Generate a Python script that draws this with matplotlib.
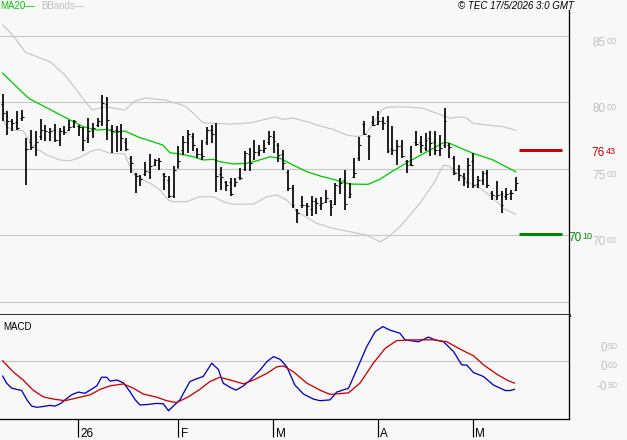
import numpy as np
import matplotlib
matplotlib.use('Agg')
import matplotlib.pyplot as plt

plt.rcParams['font.family'] = ['Liberation Sans', 'DejaVu Sans']

# OHLC diario (una barra por sesion, desde mediados de diciembre)
maximo = [8062, 7937, 7877, 7937, 7945, 7732, 7795, 7782, 7875, 7832, 7807, 7837, 7807, 7820, 7870, 7870, 7832, 7812, 7882, 7845, 7882, 8057,
          8037, 7827, 7820, 7837, 7732, 7595, 7470, 7457, 7552, 7612, 7577, 7582, 7470, 7446, 7521, 7670, 7745, 7795, 7770, 7657, 7720, 7812,
          7832, 7847, 7512, 7406, 7432, 7432, 7507, 7632, 7657, 7719, 7682, 7719, 7787, 7782, 7695, 7644, 7494, 7381, 7201, 7294, 7244, 7294,
          7282, 7286, 7344, 7269, 7394, 7432, 7494, 7394, 7582, 7737, 7857, 7757, 7895, 7932, 7887, 7895, 7820, 7719, 7719, 7569, 7669, 7782,
          7744, 7769, 7782, 7787, 7757, 7957, 7694, 7594, 7527, 7469, 7582, 7619, 7444, 7482, 7494, 7331, 7407, 7331, 7357, 7344, 7437]
minimo = [7862, 7757, 7787, 7792, 7862, 7382, 7645, 7595, 7720, 7707, 7712, 7702, 7670, 7757, 7782, 7807, 7745, 7637, 7695, 7732, 7812, 7820,
          7720, 7620, 7627, 7632, 7637, 7470, 7320, 7370, 7445, 7427, 7520, 7495, 7345, 7282, 7282, 7507, 7607, 7620, 7632, 7582, 7570, 7682,
          7695, 7327, 7344, 7331, 7294, 7361, 7419, 7482, 7482, 7569, 7594, 7619, 7682, 7619, 7552, 7494, 7331, 7206, 7094, 7206, 7144, 7144,
          7161, 7194, 7244, 7144, 7231, 7312, 7194, 7282, 7432, 7562, 7757, 7569, 7820, 7832, 7794, 7619, 7607, 7532, 7582, 7469, 7519, 7669,
          7619, 7632, 7594, 7607, 7594, 7657, 7582, 7457, 7407, 7369, 7357, 7357, 7357, 7382, 7357, 7269, 7269, 7169, 7269, 7269, 7331]
apertura = [7990, 7900, 7860, 7850, 7880, 7700, 7700, 7680, 7750, 7790, 7780, 7790, 7720, 7790, 7790, 7820, 7820, 7800, 7730, 7790, 7830, 7860,
            7990, 7800, 7790, 7780, 7700, 7580, 7460, 7440, 7460, 7480, 7530, 7570, 7460, 7420, 7300, 7510, 7640, 7700, 7750, 7640, 7610, 7700,
            7790, 7780, 7460, 7400, 7400, 7380, 7440, 7500, 7610, 7580, 7630, 7640, 7700, 7740, 7680, 7610, 7480, 7360, 7190, 7230, 7230, 7200,
            7260, 7230, 7250, 7260, 7240, 7370, 7420, 7290, 7440, 7580, 7840, 7750, 7850, 7840, 7860, 7860, 7650, 7640, 7670, 7560, 7540, 7700,
            7700, 7660, 7730, 7700, 7640, 7680, 7680, 7580, 7500, 7450, 7400, 7560, 7390, 7420, 7470, 7320, 7300, 7310, 7300, 7320, 7340]
cierre = [7920, 7862, 7845, 7807, 7887, 7650, 7662, 7700, 7795, 7782, 7787, 7720, 7782, 7775, 7812, 7857, 7812, 7720, 7782, 7807, 7857, 7995,
          7870, 7782, 7782, 7732, 7652, 7545, 7445, 7427, 7482, 7520, 7570, 7557, 7445, 7295, 7491, 7560, 7700, 7760, 7680, 7610, 7600, 7790,
          7762, 7450, 7436, 7382, 7312, 7402, 7432, 7620, 7544, 7627, 7644, 7657, 7744, 7707, 7607, 7544, 7356, 7231, 7169, 7226, 7219, 7256,
          7244, 7244, 7282, 7211, 7381, 7394, 7236, 7312, 7469, 7682, 7762, 7744, 7832, 7857, 7844, 7632, 7644, 7669, 7594, 7532, 7532, 7687,
          7682, 7719, 7694, 7644, 7657, 7857, 7662, 7469, 7451, 7432, 7532, 7381, 7419, 7469, 7381, 7306, 7306, 7231, 7312, 7319, 7394]

# MA20 y bandas de Bollinger (posicion de barra, valor)
ma_x = [0, 4.7, 5.7, 13.5, 16.9, 19.8, 21.9, 23.6, 25.7, 28.9, 31.6, 33.7, 35.2, 37.3, 40.1, 42.2, 44.3, 45.7, 48.5, 51.4, 53.5,
        56.3, 58.4, 61.1, 64.0, 66.8, 69.5, 73.1, 76.9, 79.4, 82.2, 85.7, 89.3, 92.8, 93.7, 99.0, 103.2, 108]
ma_y = [8218, 8055, 8025, 7880, 7817, 7792, 7797, 7775, 7784, 7734, 7704, 7679, 7621, 7612, 7591, 7567, 7572, 7554, 7537, 7542, 7561,
        7591, 7579, 7529, 7479, 7447, 7422, 7386, 7384, 7422, 7486, 7559, 7629, 7697, 7697, 7617, 7567, 7478]

bb_sup_x = [0, 1.1, 2.6, 4.7, 6.8, 10.0, 13.1, 16.3, 18.8, 20.5, 22.0, 25.7, 27.9, 30.0, 34.2, 38.4, 40.5, 42.2, 47.9, 52.1, 57.3,
            59.0, 61.1, 64.1, 66.8, 69.5, 72.4, 74.8, 76.6, 78.4, 79.8, 80.8, 83.6, 86.4, 88.5, 92.1, 94.2, 96.3, 97.7, 99.0,
            101.9, 105.3, 108]
bb_sup_y = [8581, 8543, 8483, 8378, 8348, 8303, 8205, 8055, 7942, 7957, 7965, 7942, 8010, 8032, 8017, 7972, 7905, 7845, 7837, 7845, 7890,
            7872, 7882, 7854, 7822, 7797, 7754, 7742, 7767, 7867, 7942, 7962, 7967, 7962, 7955, 7908, 7880, 7892, 7880, 7842,
            7830, 7817, 7790]
bb_inf_x = [0, 0.8, 2.2, 4.3, 6.4, 9.3, 12.1, 14.2, 16.3, 18.4, 20.1, 22.6, 25.7, 26.8, 27.9, 29.6, 31.7, 33.1, 34.9, 35.9, 38.7,
            41.5, 44.3, 46.4, 48.5, 52.8, 55.6, 57.7, 59.8, 62.6, 66.1, 69.5, 73.1, 76.6, 79.4, 80.8, 83.6, 87.8, 90.7, 92.8,
            94.2, 95.6, 97.7, 100.5, 103.3, 105.3, 108]
bb_inf_y = [7880, 7817, 7792, 7787, 7667, 7604, 7567, 7561, 7587, 7629, 7647, 7617, 7612, 7516, 7467, 7416, 7379, 7341, 7266, 7254, 7254,
            7291, 7291, 7254, 7234, 7236, 7291, 7304, 7266, 7166, 7091, 7054, 7028, 7003, 6953, 6979, 7066, 7241, 7392, 7529,
            7516, 7467, 7404, 7354, 7279, 7204, 7160]

# MACD (azul) y senal (rojo)
macd_x = [0, 0.8, 1.9, 4.0, 5.1, 6.1, 7.2, 8.5, 10.0, 11.0, 12.1, 13.1, 14.5, 15.9, 17.3, 18.4, 19.8, 20.8, 21.9, 22.6, 24.0,
          25.4, 26.8, 27.9, 28.9, 30.3, 32.4, 33.8, 34.9, 35.9, 37.3, 38.4, 39.4, 40.8, 42.2, 44.0, 45.4, 46.4, 47.9, 49.1,
          50.7, 52.1, 54.2, 55.6, 57.0, 58.4, 59.8, 61.5, 63.3, 65.4, 66.8, 68.9, 70.3, 72.8, 74.5, 76.6, 78.4, 80.0, 81.5,
          83.6, 84.7, 87.5, 89.6, 91.0, 92.8, 94.9, 96.6, 97.7, 99.1, 101.2, 103.3, 105.8, 106.8, 107.7]
macd_y = [-38, -56, -69, -75, -99, -115, -118, -116, -113, -115, -109, -99, -86, -79, -82, -74, -63, -41, -41, -51, -48,
          -55, -78, -99, -112, -111, -108, -109, -127, -115, -99, -74, -52, -45, -39, -5, -21, -56, -67, -74,
          -63, -48, -22, -1, 12, 5, -14, -61, -84, -97, -101, -99, -79, -69, -22, 37, 76, 89, 80,
          72, 55, 50, 62, 55, 50, 25, -9, -10, -29, -39, -61, -75, -75, -72]
senal_x = [0, 2.2, 4.3, 6.4, 8.5, 10.7, 13.1, 16.3, 18.4, 20.5, 22.6, 25.4, 27.5, 29.6, 32.4, 34.5, 36.6, 39.1, 41.5, 43.6,
           45.7, 47.9, 50.7, 52.8, 55.6, 57.7, 59.1, 61.2, 64.0, 66.8, 68.9, 72.8, 75.2, 78.0, 80.5, 82.9, 86.4, 90.7, 93.5,
           96.3, 99.1, 101.2, 104.0, 106.1, 107.7]
senal_y = [1, -27, -48, -74, -91, -97, -101, -92, -86, -72, -63, -58, -69, -84, -92, -101, -106, -91, -72, -52,
           -41, -48, -58, -48, -31, -14, -12, -27, -56, -74, -85, -81, -56, -5, 33, 53, 55, 55, 50,
           31, 14, -9, -33, -48, -56]

# niveles, etiquetas del eje
niveles_precio = [6500, 7000, 7500, 8000, 8500]
niveles_macd = [50, 0, -50]
resistencia = 7643
soporte = 7010
meses = ['26', 'F', 'M', 'A', 'M']
inicio_mes = [16, 37, 57, 79, 99]

W, H = 627, 440
fondo = '#f8f8f8'
gris = '#c8c8c8'
px = 0.72  # un pixel en puntos

fig = plt.figure(figsize=(W / 100, H / 100), dpi=100, facecolor=fondo)
ax = fig.add_axes([0, 1 - 315 / H, 569 / W, 305 / H], facecolor=fondo)
ax2 = fig.add_axes([0, 1 - 419 / H, 569 / W, 104 / H], facecolor=fondo)

x = np.arange(len(cierre))
for nivel in niveles_precio:
    ax.axhline(nivel, color=gris, lw=1.2 * px, zorder=0)
ax.plot(bb_sup_x, bb_sup_y, color=gris, lw=1.2 * px, zorder=1)
ax.plot(bb_inf_x, bb_inf_y, color=gris, lw=1.2 * px, zorder=1)
ax.plot(ma_x, ma_y, color='#00cc00', lw=1.3 * px, zorder=2)
ax.vlines(x, minimo, maximo, color='black', lw=1.7 * px, zorder=3)
ax.hlines(apertura, x - 0.38, x, color='black', lw=1.1 * px, zorder=3)
ax.hlines(cierre, x, x + 0.38, color='black', lw=1.1 * px, zorder=3)
ax.hlines(resistencia, 108.7, 117.7, color='#cc0000', lw=3 * px)
ax.hlines(soporte, 108.7, 117.7, color='#008800', lw=3 * px)

ax.set_xlim(-0.57, 119.2)
ax.set_ylim(6403, 8693)
ax2.set_xlim(-0.57, 119.2)
ax2.set_ylim(-148, 118.7)

ax2.axhline(0, color=gris, lw=1.2 * px, zorder=0)
ax2.plot(macd_x, macd_y, color='#0000cc', lw=1.3 * px)
ax2.plot(senal_x, senal_y, color='#cc0000', lw=1.3 * px)

for a in (ax, ax2):
    a.spines['top'].set_visible(False)
    a.spines['left'].set_visible(False)
    a.spines['right'].set_linewidth(1.3 * px)
    a.set_yticks([])
ax.spines['bottom'].set_linewidth(2.6 * px)
ax2.spines['bottom'].set_linewidth(1.3 * px)
ax.set_xticks([])

ax2.set_xticks([m - 0.1 for m in inicio_mes])
ax2.tick_params(axis='x', direction='out', length=18 * px, width=1.2 * px, color='black', labelbottom=False)
for m, lbl in zip(inicio_mes, meses):
    ax2.annotate(lbl, xy=(m - 0.1, 0), xycoords=('data', 'axes fraction'), xytext=(2.5 * px, -17.5 * px),
                 textcoords='offset points', ha='left', va='baseline', fontsize=8.5, color='black')


def etiqueta(a, valor, grande, chica, color, dx, dy):
    a.annotate(grande, xy=(1, valor), xycoords=('axes fraction', 'data'), xytext=(dx * px, dy * px),
               textcoords='offset points', ha='right', va='top', fontsize=8.5, color=color)
    a.annotate(chica, xy=(1, valor), xycoords=('axes fraction', 'data'), xytext=((dx + 0.5) * px, dy * px),
               textcoords='offset points', ha='left', va='top', fontsize=6.5, color=color)


for nivel in niveles_precio[1:]:
    s = str(nivel)
    etiqueta(ax, nivel, s[:2], s[2:], '#c0c0c0', 37, -1)
for nivel in niveles_macd:
    grande = '-0' if nivel < 0 else '0'
    etiqueta(ax2, nivel, grande, '%02d' % abs(nivel), '#c0c0c0', 38, 0)
etiqueta(ax, resistencia, str(resistencia)[:2], str(resistencia)[2:], '#cc0000', 36, 3)
etiqueta(ax, soporte, str(soporte)[:2], str(soporte)[2:], '#008800', 13, 2)

fig.text(0 / W, 1 - 1 / H, 'MA20—', color='#00cc00', fontsize=7, ha='left', va='top')
fig.text(41 / W, 1 - 1 / H, 'BBands—', color='#c0c0c0', fontsize=7, ha='left', va='top')
fig.text(574 / W, 1 - 1 / H, '© TEC 17/5/2026 3:0 GMT', color='black', fontsize=7, style='italic',
         ha='right', va='top')
fig.text(3 / W, 1 - 322 / H, 'MACD', color='black', fontsize=7, ha='left', va='top')

fig.savefig('out.png', dpi=100, facecolor=fondo)
